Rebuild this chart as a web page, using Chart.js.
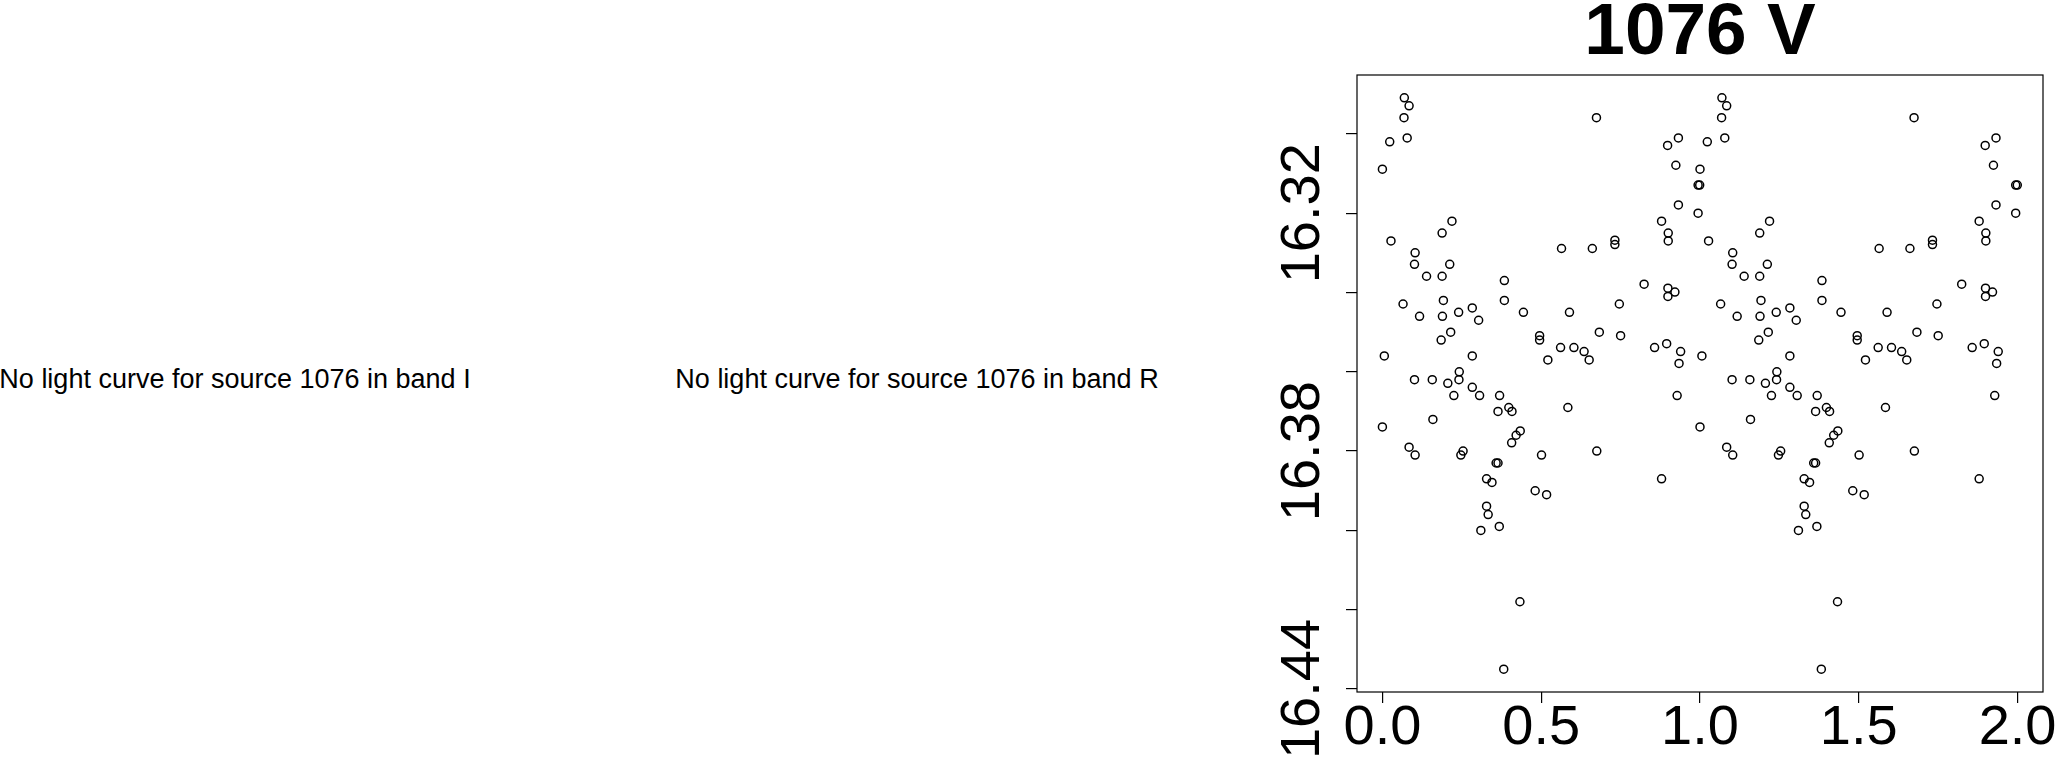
<!DOCTYPE html>
<html>
<head>
<meta charset="utf-8">
<script src="https://cdn.jsdelivr.net/npm/chart.js@4.4.1/dist/chart.umd.min.js"></script>
<style>
  html, body { margin: 0; padding: 0; background: #fff; overflow: hidden; width: 2059px; height: 758px; }
  .msg { position: absolute; top: 364px; width: 686px; line-height: 36px; text-align: center; white-space: nowrap;
         font: 27px "Liberation Sans", Arial, Helvetica, sans-serif; color: #000; }
  #wrap { position: absolute; left: 1240px; top: 0; width: 920px; height: 758px; }
</style>
</head>
<body>
<div class="msg" style="left:-108px">No light curve for source 1076 in band I</div>
<div class="msg" style="left:574px">No light curve for source 1076 in band R</div>
<div id="wrap"><canvas id="lc"></canvas></div>
<script>
// phase-folded V band light curve of source 1076 (phase, magnitude)
const phase = [
  0.069, 0.084, 0.068, 0.078, 0.023, 0.000, 0.674, 0.027, 0.103, 0.101,
  0.188, 0.219, 0.212, 0.139, 0.188, 0.065, 0.192, 0.117, 0.189, 0.240,
  0.283, 0.303, 0.215, 0.185, 0.006, 0.283, 0.242, 0.101, 0.157, 0.241,
  0.206, 0.283, 0.225, 0.306, 0.000, 0.159, 0.084, 0.103, 0.247, 0.254,
  0.384, 0.384, 0.444, 0.369, 0.364, 0.398, 0.408, 0.434, 0.421, 0.407,
  0.358, 0.364, 0.328, 0.345, 0.328, 0.333, 0.310, 0.368, 0.433, 0.382,
  0.495, 0.495, 0.521, 0.501, 0.481, 0.517, 0.564, 0.589, 0.561, 0.603,
  0.635, 0.651, 0.584, 0.661, 0.683, 0.675, 0.732, 0.732, 0.746, 0.750,
  0.824, 0.857, 0.879, 0.900, 0.900, 0.898, 0.932, 0.924, 0.932, 0.899,
  0.921, 0.899, 0.895, 0.939, 0.934, 0.928, 0.879, 0.994, 0.999, 0.994
];
const vMag = [
  16.2909, 16.2929, 16.2959, 16.3010, 16.3020, 16.3089, 16.2959, 16.3270, 16.3300, 16.3329,
  16.3250, 16.3220, 16.3329, 16.3359, 16.3359, 16.3429, 16.3420, 16.3460, 16.3460, 16.3450,
  16.3439, 16.3470, 16.3500, 16.3520, 16.3560, 16.3560, 16.3600, 16.3620, 16.3620, 16.3620,
  16.3629, 16.3639, 16.3660, 16.3660, 16.3739, 16.3720, 16.3790, 16.3810, 16.3810, 16.3800,
  16.3370, 16.3420, 16.3450, 16.3660, 16.3700, 16.3690, 16.3700, 16.3749, 16.3760, 16.3779,
  16.3830, 16.3830, 16.3870, 16.3879, 16.3939, 16.3960, 16.4000, 16.3990, 16.4180, 16.4350,
  16.3509, 16.3520, 16.3570, 16.3810, 16.3900, 16.3910, 16.3289, 16.3450, 16.3539, 16.3539,
  16.3549, 16.3570, 16.3690, 16.3289, 16.3500, 16.3800, 16.3268, 16.3279, 16.3429, 16.3509,
  16.3379, 16.3539, 16.3220, 16.3250, 16.3270, 16.3029, 16.3010, 16.3079, 16.3179, 16.3389,
  16.3399, 16.3410, 16.3529, 16.3549, 16.3579, 16.3660, 16.3870, 16.3129, 16.3129, 16.3200
];
const xTicks = [0, 0.5, 1, 1.5, 2];
const yTicks = [16.30, 16.32, 16.34, 16.36, 16.38, 16.40, 16.42, 16.44];
const yLabels = [16.32, 16.38, 16.44];

const FONT = '"Liberation Sans", Arial, Helvetica, sans-serif';

// plotted over two cycles, like the original
const points = phase.map((p, i) => ({ x: p, y: vMag[i] }))
  .concat(phase.map((p, i) => ({ x: p + 1, y: vMag[i] })));

// R style range: data range padded by 4%
const lo = Math.min(...vMag), hi = Math.max(...vMag);
const yMin = lo - (hi - lo) * 0.04, yMax = hi + (hi - lo) * 0.04;

const rStyle = {
  id: 'rStyle',
  afterDraw(chart) {
    const { ctx, chartArea: a } = chart;
    const y = chart.scales.y;
    ctx.save();
    ctx.strokeStyle = '#000';
    ctx.lineWidth = 1.2;
    ctx.strokeRect(a.left, a.top, a.right - a.left, a.bottom - a.top);
    ctx.fillStyle = '#000';
    ctx.font = '56px ' + FONT;
    ctx.textAlign = 'center';
    ctx.textBaseline = 'alphabetic';
    yLabels.forEach(v => {
      ctx.save();
      ctx.translate(a.left - 38, y.getPixelForValue(v));
      ctx.rotate(-Math.PI / 2);
      ctx.fillText(v.toFixed(2), 0, 0);
      ctx.restore();
    });
    ctx.restore();
  }
};

const tickGrid = { display: true, drawOnChartArea: false, drawTicks: true, tickLength: 11, color: '#000', lineWidth: 1.2 };

new Chart(document.getElementById('lc'), {
  type: 'scatter',
  data: {
    datasets: [{
      data: points,
      pointStyle: 'circle',
      pointRadius: 4,
      pointHoverRadius: 4,
      borderWidth: 1.5,
      borderColor: '#000',
      backgroundColor: 'rgba(0,0,0,0)'
    }]
  },
  options: {
    responsive: true,
    maintainAspectRatio: false,
    animation: false,
    layout: { padding: 0 },
    plugins: {
      legend: { display: false },
      tooltip: { enabled: false },
      title: {
        display: true,
        text: '1076 V',
        color: '#000',
        font: { family: FONT, size: 73, weight: 'bold', lineHeight: 0.8 },
        padding: { top: 5, bottom: 11.6 }
      }
    },
    scales: {
      x: {
        type: 'linear',
        min: -0.08,
        max: 2.08,
        afterBuildTicks: s => { s.ticks = xTicks.map(v => ({ value: v })); },
        afterFit: s => { s.height = 66; s.paddingLeft = 0; s.paddingRight = 0; },
        ticks: { color: '#000', font: { family: FONT, size: 56, lineHeight: 0.9 }, padding: 0,
                 maxRotation: 0, autoSkip: false, callback: v => v.toFixed(1) },
        grid: tickGrid,
        border: { display: false }
      },
      y: {
        type: 'linear',
        reverse: true,
        min: yMin,
        max: yMax,
        afterBuildTicks: s => { s.ticks = yTicks.map(v => ({ value: v })); },
        afterFit: s => { s.width = 117; },
        ticks: { display: false },
        grid: tickGrid,
        border: { display: false }
      },
      // empty right box so the title centres over the plot
      y2: {
        type: 'linear',
        position: 'right',
        min: 0,
        max: 1,
        afterFit: s => { s.width = 117; },
        ticks: { display: false },
        grid: { display: false },
        border: { display: false }
      }
    }
  },
  plugins: [rStyle]
});
</script>
</body>
</html>
